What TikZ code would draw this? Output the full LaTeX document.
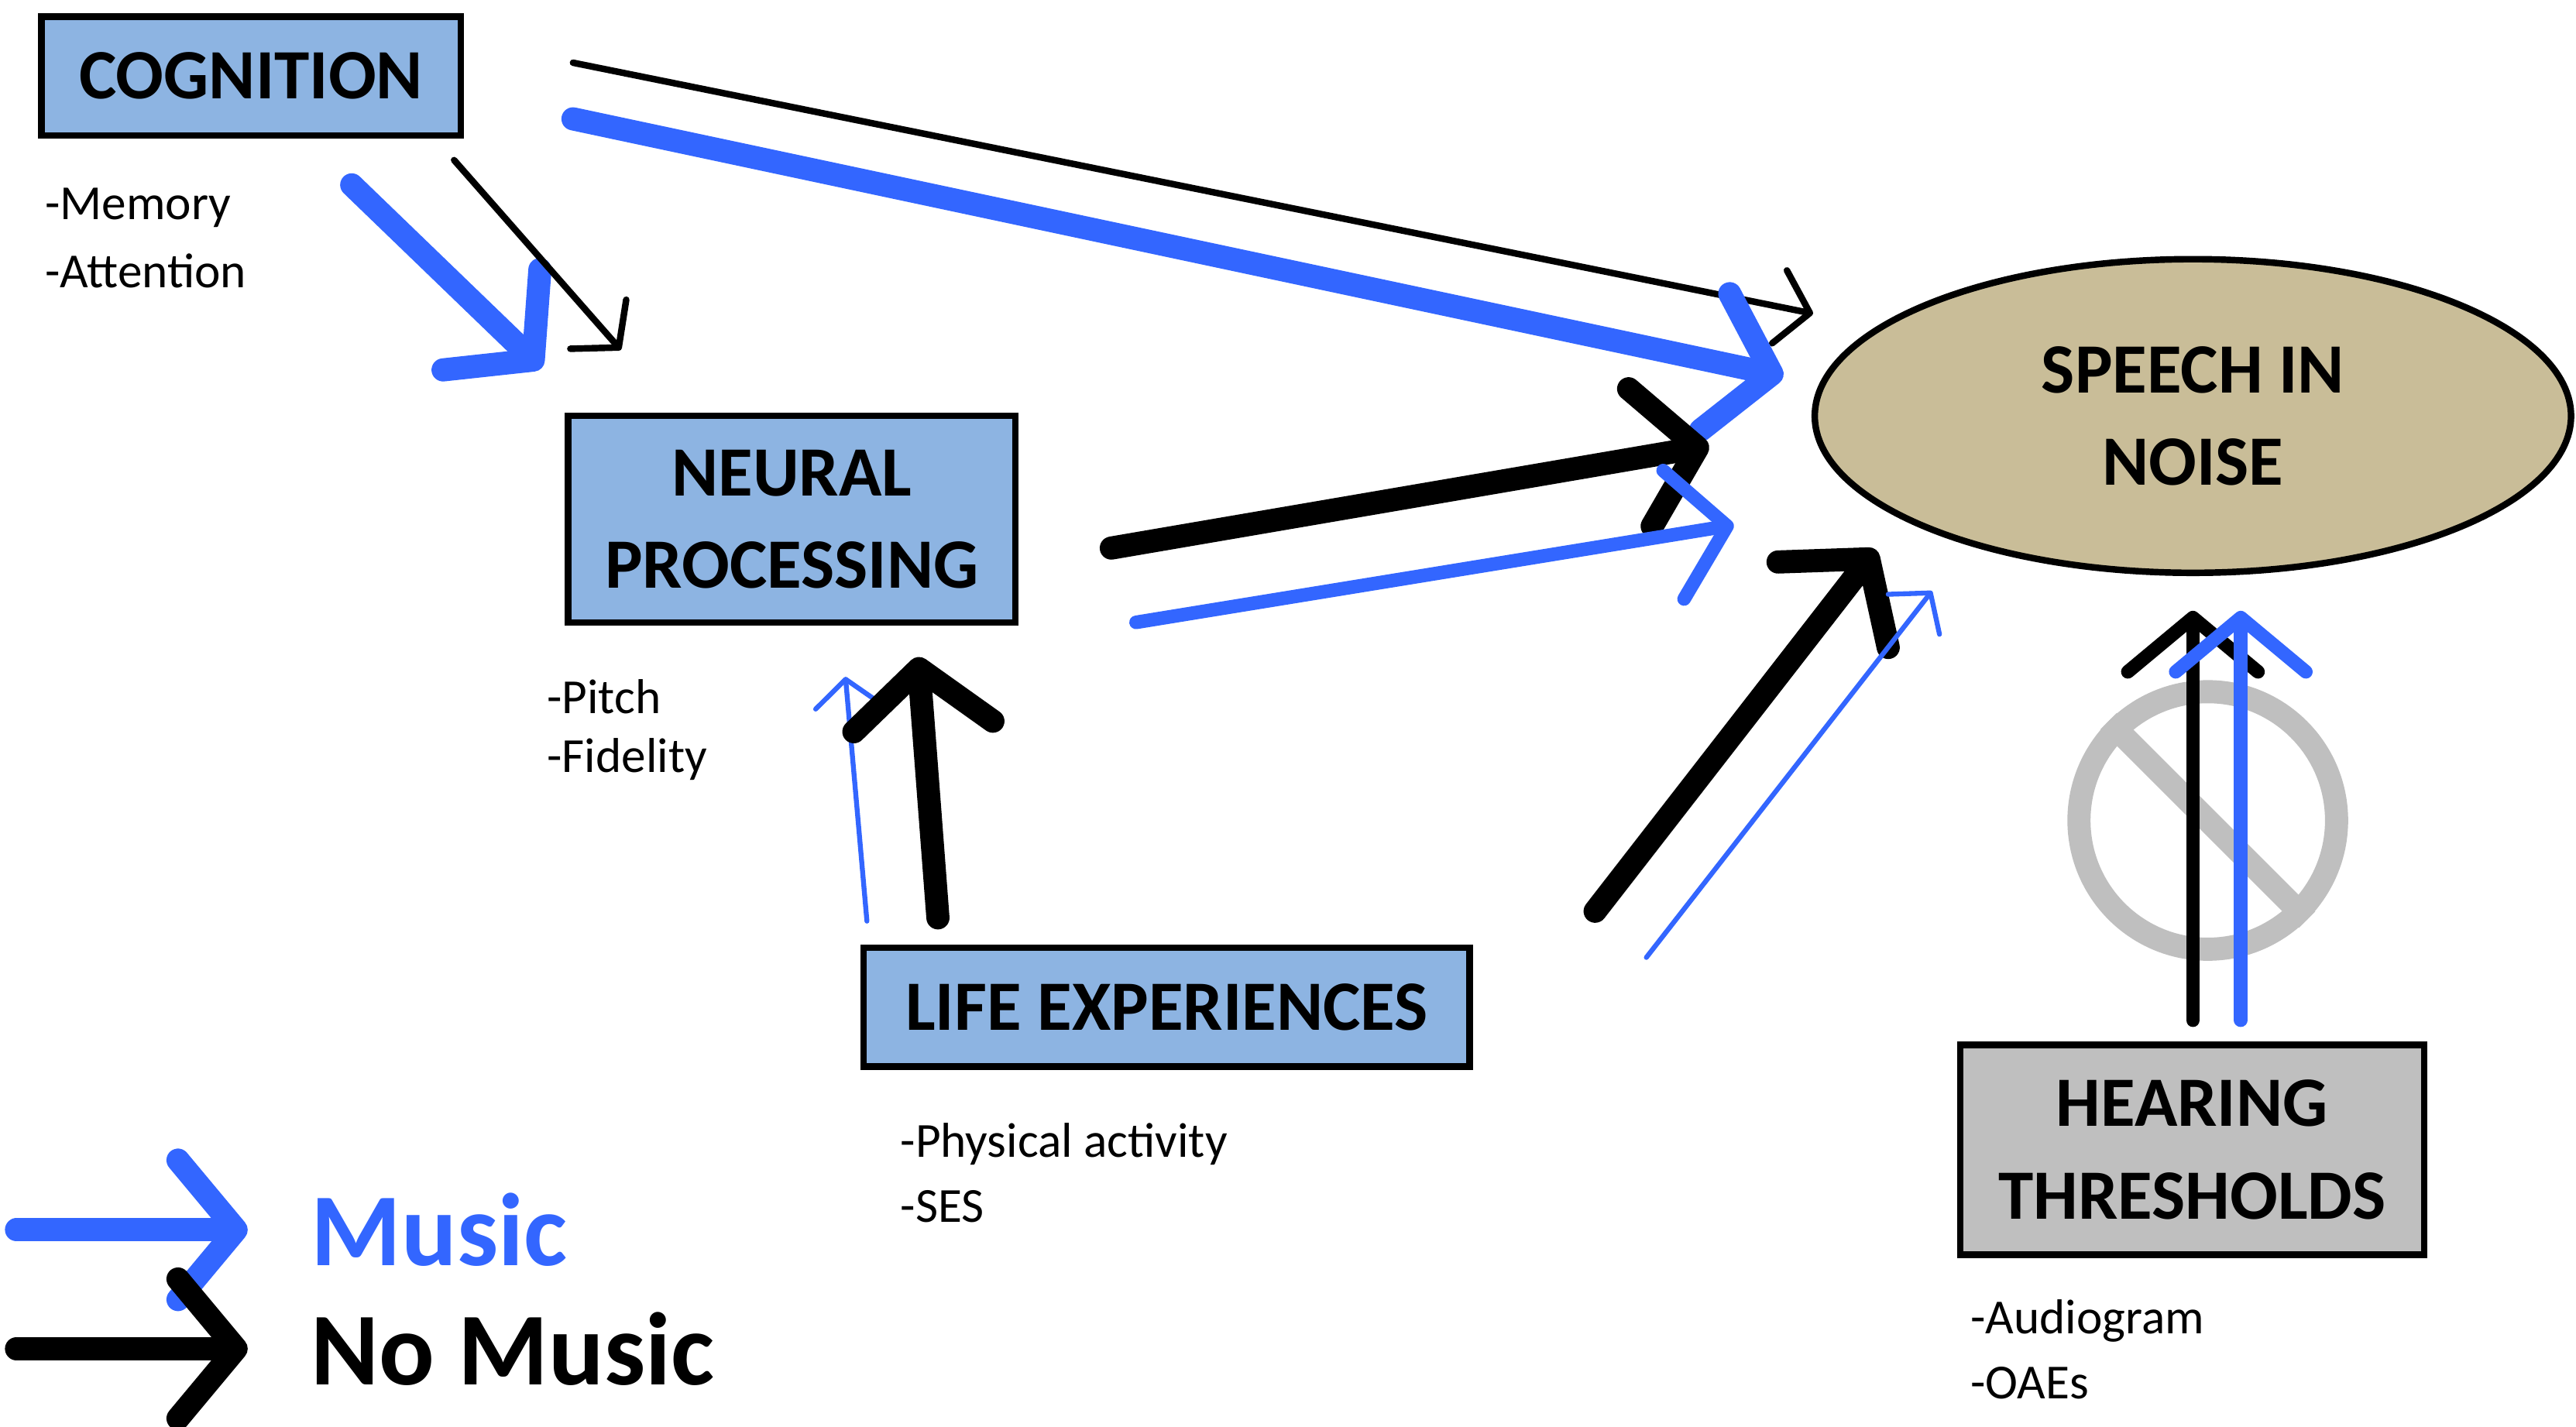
\documentclass[tikz,border=0pt]{standalone}
\usepackage{fontspec}
\setmainfont{Carlito}
\usetikzlibrary{arrows.meta,shapes.geometric}
\definecolor{boxblue}{HTML}{8DB4E2}
\definecolor{mblue}{HTML}{3366FF}
\definecolor{tan}{HTML}{C9BD98}
\definecolor{lgray}{HTML}{BFBFBF}
\begin{document}
\begin{tikzpicture}[x=0.02132cm,y=-0.02132cm,
  box/.style={draw=black,line width=2.4pt,fill=boxblue,font=\bfseries\fontsize{26}{30}\selectfont,align=center,inner sep=0pt},
  sub/.style={anchor=west,font=\fontsize{18}{20}\selectfont,inner sep=0pt},
  arr/.style={-{Straight Barb[length=#1,width=2.4*#1,round]},line cap=round},
  thick arr/.style={arr=0.75cm,line width=8.5pt},
  med arr/.style={arr=0.7cm,line width=5pt},
  thin arr/.style={arr=0.4cm,line width=2.4pt},
  hair arr/.style={arr=0.35cm,line width=1.8pt}]
\useasboundingbox (0,0) rectangle (1560,864);
% boxes
\node[box,minimum width={254*0.02132cm},minimum height={72*0.02132cm}] (cog) at (152,46) {COGNITION};
\node[box,minimum width={271*0.02132cm},minimum height={125*0.02132cm}] (neu) at (479.5,314.5) {NEURAL\\[4pt]PROCESSING};
\node[box,minimum width={367*0.02132cm},minimum height={72*0.02132cm}] (life) at (706.5,610) {LIFE EXPERIENCES};
\node[box,fill=lgray,minimum width={281*0.02132cm},minimum height={127*0.02132cm}] (hear) at (1327.5,696.5) {HEARING\\[4pt]THRESHOLDS};
\node[draw=black,line width=2.4pt,fill=tan,ellipse,minimum width={458*0.02132cm},minimum height={190*0.02132cm},inner sep=0pt,align=center,font=\bfseries\fontsize{26}{30}\selectfont] (sin) at (1328,252) {SPEECH IN\\[4pt]NOISE};
% sub labels
\node[sub] (m1) at (27,126) {-Memory};
\node[sub] (m2) at (27,164) {-Attention};
\node[sub] (p1) at (331,422) {-Pitch};
\node[sub] (p2) at (331,460) {-Fidelity};
\node[sub] (l1) at (545,693) {-Physical activity};
\node[sub] (l2) at (545,731) {-SES};
\node[sub] (h1) at (1193,800) {-Audiogram};
\node[sub] (h2) at (1193,838) {-OAEs};
% prohibition sign
\node[circle,draw=lgray,line width=8.5pt,minimum size={156*0.02132cm},inner sep=0pt] (no) at (1337,497) {};
\draw[lgray,line width=8.5pt] (no.135) -- (no.-45);
% coordinates
\coordinate (a1s) at (347,38); \coordinate (a1e) at (1098,190);
\coordinate (a2s) at (347,72); \coordinate (a2e) at (1080,228);
\coordinate (a3s) at (213,112); \coordinate (a3e) at (328,223);
\coordinate (a4s) at (275,97); \coordinate (a4e) at (376,212);
\coordinate (a5s) at (673,332); \coordinate (a5e) at (1035,270);
\coordinate (a6s) at (688,377); \coordinate (a6e) at (1050,318);
\coordinate (a7s) at (525,558); \coordinate (a7e) at (512,410);
\coordinate (a8s) at (568,556); \coordinate (a8e) at (556,398);
\coordinate (a9s) at (966,552); \coordinate (a9e) at (1136,333);
\coordinate (a10s) at (997,580); \coordinate (a10e) at (1170,358);
\coordinate (a11s) at (1328,618); \coordinate (a11e) at (1328,370);
\coordinate (a12s) at (1357,618); \coordinate (a12e) at (1357,370);
% arrows
\draw[thin arr] (a1s) -- (a1e);
\draw[thick arr,mblue] (a2s) -- (a2e);
\draw[thick arr,mblue] (a3s) -- (a3e);
\draw[thin arr] (a4s) -- (a4e);
\draw[thick arr] (a5s) -- (a5e);
\draw[med arr,mblue] (a6s) -- (a6e);
\draw[hair arr,mblue] (a7s) -- (a7e);
\draw[thick arr] (a8s) -- (a8e);
\draw[thick arr] (a9s) -- (a9e);
\draw[hair arr,mblue] (a10s) -- (a10e);
\draw[med arr] (a11s) -- (a11e);
\draw[med arr,mblue] (a12s) -- (a12e);
% legend
\coordinate (lb1) at (10,745); \coordinate (lb2) at (150,745);
\coordinate (lk1) at (10,817); \coordinate (lk2) at (150,817);
\draw[thick arr,mblue] (lb1) -- (lb2);
\draw[thick arr] (lk1) -- (lk2);
\node[anchor=west,inner sep=0pt,text=mblue,font=\bfseries\fontsize{38}{40}\selectfont] (music) at (188,745) {Music};
\node[anchor=west,inner sep=0pt,font=\bfseries\fontsize{38}{40}\selectfont] (nomusic) at (188,817) {No Music};
\end{tikzpicture}
\end{document}
